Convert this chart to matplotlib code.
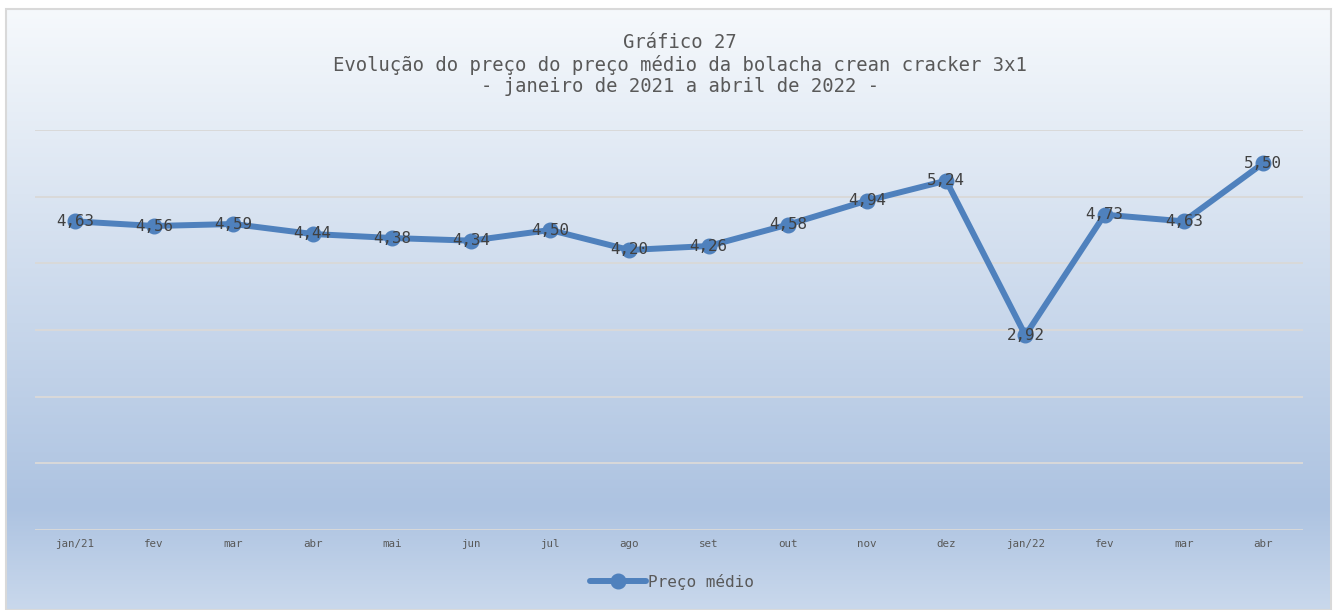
import matplotlib
matplotlib.use("Agg")
import matplotlib.pyplot as plt
import numpy as np
from matplotlib.colors import LinearSegmentedColormap
from matplotlib.patches import Rectangle

categories = ["jan/21", "fev", "mar", "abr", "mai", "jun", "jul", "ago", "set", "out",
              "nov", "dez", "jan/22", "fev", "mar", "abr"]
values = [4.63, 4.56, 4.59, 4.44, 4.38, 4.34, 4.50, 4.20, 4.26, 4.58,
          4.94, 5.24, 2.92, 4.73, 4.63, 5.50]
title_lines = ["Gráfico 27",
               "Evolução do preço do preço médio da bolacha crean cracker 3x1",
               "- janeiro de 2021 a abril de 2022 -"]
series_name = "Preço médio"

W, H = 1335, 610
fig = plt.figure(figsize=(W / 100, H / 100), dpi=100)
plt.rcParams['font.family'] = ['DejaVu Sans Mono']

# background gradient
bg = fig.add_axes([0, 0, 1, 1], zorder=-10)
cmap = LinearSegmentedColormap.from_list(
    "g", [(0.0, "#f6f9fc"), (0.83, "#adc3e1"), (1.0, "#c9d8ec")])
grad = np.linspace(0, 1, 256).reshape(-1, 1)
x0, x1, y1 = 6 / W, 1331 / W, 1 - 9 / H
bg.imshow(grad, aspect="auto", cmap=cmap, extent=[x0, x1, 0, y1], origin="upper")
bg.add_patch(Rectangle((x0, 0), x1 - x0, y1, fill=False,
                       edgecolor="#d9d9d9", linewidth=1.5, transform=bg.transAxes))
bg.set_xlim(0, 1)
bg.set_ylim(0, 1)
bg.axis("off")

left, right, top, bottom = 35.4, 1302.6, 130, 530
ax = fig.add_axes([left / W, 1 - bottom / H, (right - left) / W, (bottom - top) / H])
ax.patch.set_alpha(0)
x = np.arange(len(categories))
ax.set_xlim(-0.5, len(categories) - 0.5)
ax.set_ylim(0, 6)
ax.set_yticks(np.arange(0, 7, 1))
ax.yaxis.grid(True, color="#d9d9d9", linewidth=1.4)
ax.set_axisbelow(True)
ax.tick_params(axis="y", left=False, labelleft=False)
ax.tick_params(axis="x", bottom=False, labelsize=7.8, labelcolor="#595959", pad=3)
ax.set_xticks(x)
ax.set_xticklabels(categories)
for s in ax.spines.values():
    s.set_visible(False)

line, = ax.plot(x, values, color="#4f81bd", linewidth=4.3, marker="o",
                markersize=10.5, markerfacecolor="#4f81bd", markeredgecolor="#4f81bd",
                label=series_name, solid_capstyle="round", clip_on=False)
for xi, v in zip(x, values):
    ax.text(xi, v, f"{v:.2f}".replace(".", ","), ha="center", va="center",
            fontsize=11.4, color="#404040", zorder=5)

for yy, t in zip([42, 65, 87], title_lines):
    fig.text(680 / W, 1 - yy / H, t, ha="center", va="center", fontsize=13.6, color="#595959")

leg = fig.legend(handles=[line], loc="center", bbox_to_anchor=(672 / W, 1 - 582 / H),
                 frameon=False, fontsize=11.5, handlelength=3.5, handletextpad=0.1,
                 labelcolor="#595959")

fig.savefig("out.png", dpi=100)
